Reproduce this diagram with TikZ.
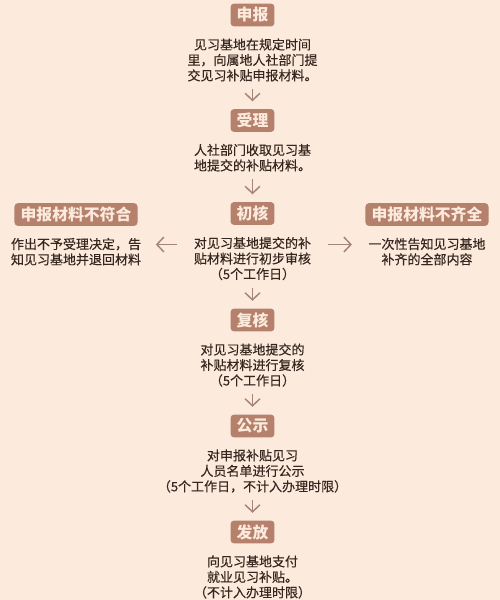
\documentclass[tikz,border=0pt]{standalone}
\usepackage{fontspec}
\setmainfont{Noto Sans CJK SC}
\newfontfamily\notefont{Noto Sans CJK SC}[FakeBold=0.35]
\usepackage{xcolor}
\usepackage{tikz}
\usetikzlibrary{arrows.meta,positioning}

\definecolor{bgpeach}{HTML}{FCEBDD}
\definecolor{boxbrown}{HTML}{B5806C}
\definecolor{arrowbrown}{HTML}{A58578}
\definecolor{textdark}{HTML}{35271F}

\begin{document}
\begin{tikzpicture}[->,>={Straight Barb[length=4pt,width=8.5pt]},
            line width=0.85pt]
        \tikzstyle{stage}=[fill=boxbrown,text=bgpeach,rounded corners=2pt,
            font=\fontsize{9}{10}\selectfont\bfseries,inner xsep=3.5pt,
            inner ysep=0pt,minimum height=13pt]
        \tikzstyle{note}=[text=textdark,align=center,inner sep=0pt,
            font=\notefont\fontsize{7.4}{8.8}\selectfont]
        \tikzstyle{flow}=[draw=arrowbrown,shorten <=4pt,shorten >=4pt]

        \fill[bgpeach] (0,0) rectangle (10,-12);
        \useasboundingbox (0,0) rectangle (10,-12);

        \node[stage] (apply) at (5.05,-0.30) {申报};
        \node[note] (applytxt) [below=6pt of apply]
            {见习基地在规定时间\\里，向属地人社部门提\\交见习补贴申报材料。};

        \node[stage] (accept) at (5.05,-2.41) {受理};
        \node[note] (accepttxt) [below=6pt of accept]
            {人社部门收取见习基\\地提交的补贴材料。};

        \node[stage] (check) at (5.05,-4.27) {初核};
        \node[note] (checktxt) [below=6pt of check]
            {对见习基地提交的补\\贴材料进行初步审核\\（5个工作日）};

        \node[stage] (reject) at (1.52,-4.29) {申报材料不符合};
        \node[note] (rejecttxt) [below=6pt of reject]
            {作出不予受理决定，告\\知见习基地并退回材料};

        \node[stage] (lack) at (8.54,-4.29) {申报材料不齐全};
        \node[note] (lacktxt) [below=6pt of lack]
            {一次性告知见习基地\\补齐的全部内容};

        \node[stage] (review) at (5.05,-6.40) {复核};
        \node[note] (reviewtxt) [below=6pt of review]
            {对见习基地提交的\\补贴材料进行复核\\（5个工作日）};

        \node[stage] (publicize) at (5.05,-8.52) {公示};
        \node[note] (publicizetxt) [below=6pt of publicize]
            {对申报补贴见习\\人员名单进行公示\\（5个工作日，不计入办理时限）};

        \node[stage] (payout) at (5.05,-10.64) {发放};
        \node[note] (payouttxt) [below=6pt of payout]
            {向见习基地支付\\就业见习补贴。\\（不计入办理时限）};

        \path (applytxt) edge[flow] (accept);
        \path (accepttxt) edge[flow] (check);
        \path (checktxt) edge[flow] (review);
        \path (reviewtxt) edge[flow] (publicize);
        \path (publicizetxt) edge[flow] (payout);

        \draw[flow,shorten <=9pt,shorten >=8pt] ([yshift=8pt]checktxt.west)
            -- ([yshift=8pt]checktxt.west -| rejecttxt.east);
        \draw[flow,shorten <=9pt,shorten >=9pt] ([yshift=8pt]checktxt.east)
            -- ([yshift=8pt]checktxt.east -| lacktxt.west);
    \end{tikzpicture}
\end{document}
